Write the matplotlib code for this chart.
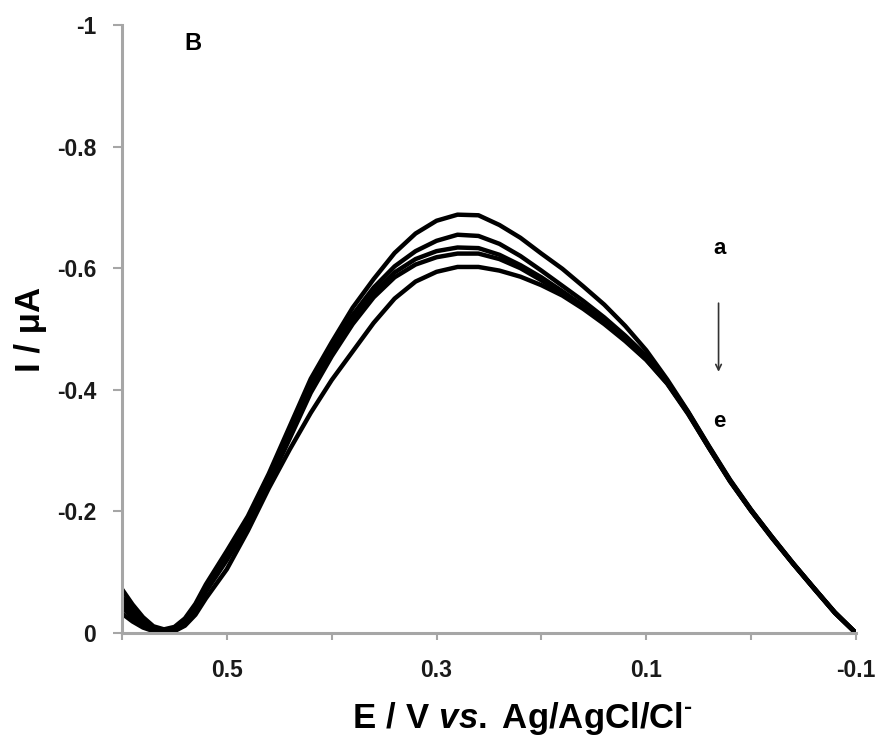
import numpy as np
import matplotlib
matplotlib.use("Agg")
import matplotlib.pyplot as plt

plt.rcParams['font.family'] = ['Liberation Sans', 'DejaVu Sans']
plt.rcParams['mathtext.fontset'] = 'custom'
plt.rcParams['mathtext.rm'] = 'Liberation Sans:bold'
plt.rcParams['mathtext.it'] = 'Liberation Sans:italic:bold'
plt.rcParams['mathtext.bf'] = 'Liberation Sans:bold'

## Data (E in V, I in uA)
potential = [0.60, 0.59, 0.58, 0.57, 0.56, 0.55, 0.54, 0.53, 0.52, 0.50, 0.48, 0.46,
             0.44, 0.42, 0.40, 0.38, 0.36, 0.34, 0.32, 0.30, 0.28, 0.26, 0.24, 0.22,
             0.20, 0.18, 0.16, 0.14, 0.12, 0.10, 0.08, 0.06, 0.04, 0.02, 0.00, -0.02,
             -0.04, -0.06, -0.08, -0.10]

curve_a = [-0.072, -0.047, -0.026, -0.011, -0.006, -0.010, -0.024, -0.048, -0.080, -0.135,
           -0.192, -0.262, -0.340, -0.418, -0.478, -0.535, -0.582, -0.625, -0.657, -0.678,
           -0.688, -0.687, -0.671, -0.650, -0.624, -0.599, -0.570, -0.540, -0.505, -0.465,
           -0.417, -0.364, -0.307, -0.252, -0.203, -0.158, -0.115, -0.074, -0.034, 0.0]
curve_b = [-0.060, -0.039, -0.021, -0.009, -0.004, -0.008, -0.021, -0.044, -0.076, -0.128,
           -0.186, -0.256, -0.333, -0.409, -0.469, -0.523, -0.568, -0.603, -0.628, -0.645,
           -0.655, -0.653, -0.640, -0.620, -0.596, -0.571, -0.546, -0.519, -0.489, -0.456,
           -0.414, -0.363, -0.306, -0.251, -0.202, -0.158, -0.115, -0.074, -0.034, 0.0]
curve_c = [-0.050, -0.032, -0.017, -0.007, -0.003, -0.006, -0.019, -0.041, -0.072, -0.125,
           -0.181, -0.251, -0.327, -0.402, -0.462, -0.515, -0.560, -0.593, -0.615, -0.628,
           -0.634, -0.633, -0.622, -0.605, -0.585, -0.562, -0.538, -0.512, -0.484, -0.452,
           -0.412, -0.362, -0.305, -0.250, -0.202, -0.157, -0.114, -0.074, -0.033, 0.0]
curve_d = [-0.042, -0.026, -0.014, -0.005, -0.002, -0.005, -0.017, -0.038, -0.068, -0.120,
           -0.176, -0.246, -0.320, -0.395, -0.455, -0.508, -0.552, -0.585, -0.606, -0.618,
           -0.624, -0.624, -0.615, -0.600, -0.580, -0.558, -0.535, -0.510, -0.482, -0.450,
           -0.411, -0.361, -0.304, -0.250, -0.201, -0.157, -0.114, -0.073, -0.033, 0.0]
curve_e = [-0.032, -0.019, -0.009, -0.003, -0.001, -0.003, -0.012, -0.030, -0.057, -0.105,
           -0.168, -0.238, -0.302, -0.362, -0.416, -0.463, -0.510, -0.550, -0.578, -0.594,
           -0.602, -0.602, -0.596, -0.586, -0.572, -0.555, -0.533, -0.508, -0.480, -0.449,
           -0.410, -0.360, -0.304, -0.249, -0.201, -0.156, -0.114, -0.073, -0.033, 0.0]

curves = [curve_a, curve_b, curve_c, curve_d, curve_e]

x_ticks = [0.6, 0.5, 0.4, 0.3, 0.2, 0.1, 0.0, -0.1]
x_labels = ['', '0.5', '', '0.3', '', '0.1', '', '-0.1']
y_ticks = [0, -0.2, -0.4, -0.6, -0.8, -1]
y_labels = ['0', '-0.2', '-0.4', '-0.6', '-0.8', '-1']

## Plot
fig = plt.figure(figsize=(8.81, 7.47), dpi=100)
ax = fig.add_axes([0.1385, 0.1526, 0.833, 0.814])

for ys in curves:
    ax.plot(potential, ys, color='black', lw=3.2, solid_capstyle='round',
            solid_joinstyle='round')

ax.set_xlim(0.6, -0.1)
ax.set_ylim(0, -1)

ax.set_xticks(x_ticks)
ax.set_xticklabels(x_labels)
ax.set_yticks(y_ticks)
ax.set_yticklabels(y_labels)

axis_grey = '#a6a6a6'
for side in ['top', 'right']:
    ax.spines[side].set_visible(False)
for side in ['left', 'bottom']:
    ax.spines[side].set_color(axis_grey)
    ax.spines[side].set_linewidth(2.2)

ax.tick_params(axis='x', direction='out', length=5, width=1.5, color=axis_grey,
               labelsize=16.5, pad=14)
ax.tick_params(axis='y', direction='out', length=6.5, width=1.5, color=axis_grey,
               labelsize=16.5, pad=12)
for lab in ax.get_xticklabels() + ax.get_yticklabels():
    lab.set_fontweight('bold')
    lab.set_color('#1a1a1a')

ax.set_xlabel(r'$\mathrm{E\ /\ V\ }\mathit{vs.}\;\mathrm{Ag/AgCl/Cl}^{\text{-}}$',
              fontsize=25, labelpad=13)
ax.xaxis.label.set_x(0.546)
ax.set_ylabel('I / \u03bcA', fontsize=25, fontweight='bold', labelpad=7)

# annotations
ax.text(0.532, -0.97, 'B', fontsize=17, fontweight='bold', ha='center', va='center')
ax.text(0.030, -0.633, 'a', fontsize=16, fontweight='bold', ha='center', va='center')
ax.text(0.030, -0.348, 'e', fontsize=16, fontweight='bold', ha='center', va='center')
ax.annotate('', xy=(0.031, -0.425), xytext=(0.031, -0.547),
            arrowprops=dict(arrowstyle='->', color='#333333', lw=1.2))

fig.savefig('out.png', dpi=100)
